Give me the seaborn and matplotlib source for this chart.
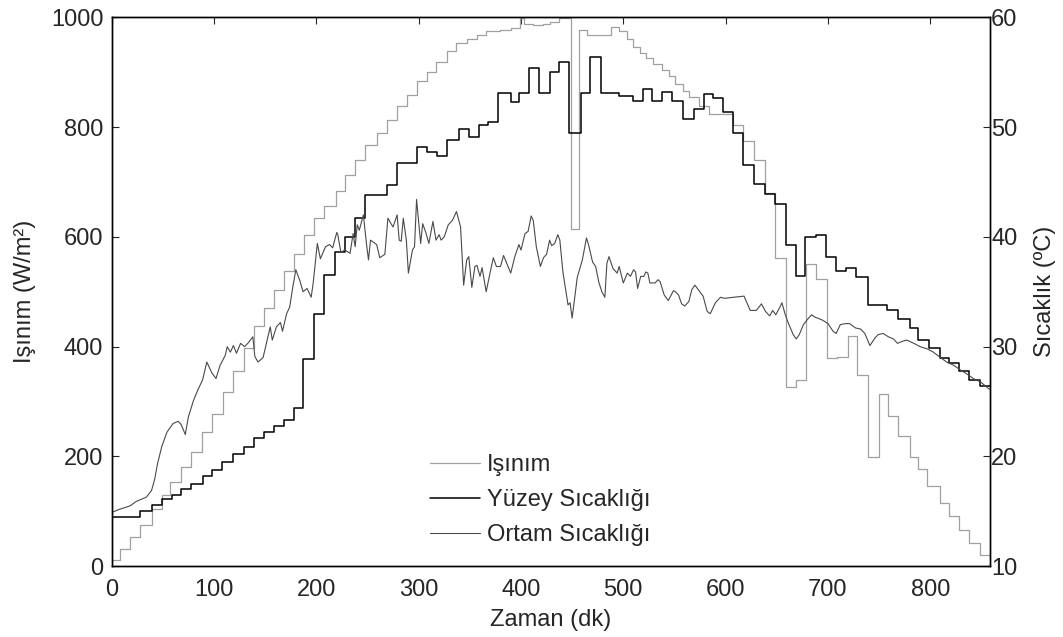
import pandas as pd
import matplotlib
matplotlib.use("Agg")
import matplotlib.pyplot as plt
import seaborn as sns

# Işınım (W/m2) - step series, time of each step (dk)
isinim_t = [0, 8, 18, 28, 39, 49, 57, 68, 78, 88, 98, 109, 119, 129, 139, 149, 159, 168, 178, 188,
            198, 208, 219, 228, 238, 248, 259, 269, 279, 289, 298, 308, 317, 328, 337, 347, 357, 366,
            380, 390, 399, 403, 412, 422, 428, 437, 449, 457, 465, 488, 496, 504, 509, 516, 522, 529,
            538, 545, 551, 558, 564, 574, 584, 607, 617, 628, 638, 648, 659, 669, 679, 688, 699, 709,
            720, 728, 739, 750, 759, 768, 780, 788, 797, 809, 818, 828, 838, 849, 858]
isinim_v = [12, 32, 53, 75, 104, 129, 153, 181, 208, 244, 278, 317, 355, 397, 437, 470, 503, 538, 568, 603,
            634, 657, 684, 712, 740, 768, 789, 813, 838, 859, 883, 900, 918, 939, 953, 960, 967, 974,
            977, 981, 998, 988, 985, 988, 991, 998, 614, 977, 968, 983, 974, 960, 946, 935, 925, 915,
            904, 893, 879, 865, 855, 838, 823, 803, 775, 740, 680, 562, 326, 340, 551, 523, 379, 381,
            419, 348, 199, 313, 274, 237, 199, 178, 147, 115, 91, 66, 42, 21, 21]

# Yüzey Sıcaklığı (°C) - step series
yuzey_t = [0, 28, 39, 49, 59, 68, 78, 89, 98, 108, 119, 129, 139, 149, 159, 168, 178, 187, 198, 208,
           218, 228, 238, 248, 269, 279, 298, 308, 318, 328, 339, 349, 359, 368, 378, 390, 398, 408,
           418, 428, 437, 447, 459, 467, 478, 496, 509, 519, 528, 538, 548, 558, 569, 579, 588, 597,
           607, 617, 628, 638, 648, 659, 669, 678, 688, 698, 708, 718, 727, 739, 758, 768, 780, 788,
           799, 809, 818, 828, 838, 849, 858]
yuzey_v = [14.5, 15.0, 15.6, 16.1, 16.5, 17.0, 17.5, 18.2, 18.8, 19.5, 20.2, 20.9, 21.7, 22.2, 22.8, 23.3,
           24.4, 28.9, 33.0, 36.5, 38.6, 40.0, 41.7, 43.8, 44.7, 46.7, 48.2, 47.7, 47.4, 48.8, 49.8, 49.1,
           50.2, 50.5, 53.1, 52.3, 53.1, 55.4, 53.1, 55.0, 55.9, 49.5, 53.1, 56.4, 53.1, 52.8, 52.4, 53.5,
           52.4, 53.2, 52.4, 50.7, 51.6, 53.0, 52.6, 51.4, 49.5, 46.5, 44.8, 43.9, 43.0, 39.3, 36.4, 40.0,
           40.2, 38.2, 36.9, 37.2, 36.3, 33.8, 33.3, 32.5, 31.7, 30.6, 29.9, 29.0, 28.5, 27.8, 27.0, 26.4,
           26.4]

# Ortam Sıcaklığı (°C)
ortam_t = [0, 8, 18, 24, 34, 39, 42, 45, 49, 54, 60, 65, 68, 72, 75, 80, 84, 89, 93, 96, 98, 102, 106,
           111, 113, 116, 119, 122, 126, 130, 134, 138, 140, 143, 148, 152, 155, 157, 161, 165, 167, 171,
           174, 177, 180, 184, 187, 191, 195, 197, 201, 204, 209, 213, 216, 220, 221, 224, 228, 233, 236,
           238, 240, 242, 246, 249, 251, 253, 259, 262, 267, 270, 273, 275, 279, 281, 283, 285, 288, 290,
           294, 296, 298, 302, 304, 307, 310, 314, 317, 320, 322, 325, 329, 333, 337, 341, 344, 347, 349,
           352, 355, 357, 360, 362, 366, 370, 373, 376, 380, 383, 387, 390, 394, 398, 400, 404, 407, 410,
           412, 415, 419, 422, 425, 428, 430, 433, 436, 438, 441, 446, 448, 450, 455, 460, 464, 466, 470,
           473, 476, 479, 482, 484, 486, 490, 494, 496, 500, 504, 507, 510, 512, 514, 517, 520, 522, 524,
           526, 531, 534, 536, 540, 544, 549, 551, 554, 557, 560, 564, 567, 570, 574, 578, 582, 585, 590,
           595, 599, 608, 618, 624, 630, 635, 639, 643, 646, 649, 653, 655, 658, 661, 666, 669, 672, 676,
           681, 684, 687, 690, 695, 700, 705, 708, 712, 717, 721, 727, 732, 736, 741, 746, 749, 754, 759,
           764, 768, 773, 777, 784, 790, 797, 803, 810, 816, 823, 829, 836, 842, 849, 858]
ortam_v = [14.9, 15.2, 15.5, 15.9, 16.3, 16.9, 17.9, 19.4, 20.9, 22.2, 23.0, 23.2, 22.9, 22.0, 23.6, 25.1,
           26.0, 27.0, 28.6, 28.0, 27.6, 27.1, 28.3, 29.2, 30.0, 29.5, 30.1, 29.4, 30.3, 30.0, 30.4, 30.9,
           29.1, 28.6, 29.0, 30.6, 31.8, 30.6, 31.8, 32.2, 31.4, 33.0, 33.6, 35.4, 37.0, 36.0, 35.0, 35.3,
           34.5, 35.8, 39.4, 38.0, 39.1, 39.3, 39.0, 40.4, 40.2, 38.6, 38.8, 38.5, 40.3, 39.1, 41.1, 40.6,
           42.0, 39.4, 37.9, 39.7, 39.3, 38.1, 38.4, 41.7, 41.2, 40.9, 42.0, 39.7, 39.6, 41.7, 39.7, 36.7,
           38.8, 39.1, 43.4, 39.4, 41.2, 40.4, 39.4, 41.4, 39.7, 40.2, 39.7, 40.0, 41.1, 41.5, 42.3, 40.9,
           35.6, 37.9, 38.2, 35.4, 37.3, 37.4, 36.4, 37.2, 35.0, 36.8, 38.1, 37.3, 37.3, 38.3, 37.4, 36.7,
           38.2, 39.3, 38.8, 40.3, 40.5, 41.9, 41.5, 39.1, 37.3, 38.1, 38.4, 39.7, 39.2, 39.4, 40.2, 39.7,
           36.8, 33.8, 34.0, 32.6, 36.3, 37.9, 39.9, 39.3, 37.7, 37.3, 35.9, 35.0, 34.5, 37.6, 38.2, 37.1,
           36.7, 37.3, 35.8, 36.7, 36.4, 37.0, 36.8, 35.3, 36.4, 36.4, 36.8, 36.7, 35.8, 35.8, 36.1, 35.9,
           34.7, 34.2, 35.1, 35.0, 34.7, 33.9, 33.7, 34.1, 35.2, 35.6, 35.1, 34.6, 33.2, 33.0, 34.0, 34.5,
           34.4, 34.5, 34.6, 33.3, 33.3, 33.9, 33.2, 32.8, 33.3, 32.9, 33.6, 34.0, 33.0, 32.2, 31.1, 30.7,
           31.1, 32.0, 32.6, 32.9, 32.7, 32.6, 32.4, 32.1, 31.4, 31.2, 32.0, 32.1, 32.1, 31.7, 31.6, 31.2,
           30.1, 30.8, 31.1, 31.2, 30.9, 30.7, 30.3, 30.5, 30.6, 30.3, 30.0, 29.8, 29.5, 29.0, 28.6, 28.3,
           27.9, 27.5, 27.1, 26.8, 26.1]

x_ticks = [0, 100, 200, 300, 400, 500, 600, 700, 800]
left_ticks = [0, 200, 400, 600, 800, 1000]
right_ticks = [10, 20, 30, 40, 50, 60]

df_isinim = pd.DataFrame({'Zaman': isinim_t, 'Deger': isinim_v})
df_yuzey = pd.DataFrame({'Zaman': yuzey_t, 'Deger': yuzey_v})
df_ortam = pd.DataFrame({'Zaman': ortam_t, 'Deger': ortam_v})

sns.set_style('white')
plt.rcParams['font.family'] = ['Liberation Sans', 'DejaVu Sans']
fs = 17

fig = plt.figure(figsize=(10.63, 6.37), dpi=100)
ax1 = fig.add_axes([0.105, 0.111, 0.826, 0.862])
ax2 = ax1.twinx()

sns.lineplot(data=df_isinim, x='Zaman', y='Deger', ax=ax1, color='#a0a0a0', linewidth=0.9,
             drawstyle='steps-post', label='Işınım', legend=False)
sns.lineplot(data=df_yuzey, x='Zaman', y='Deger', ax=ax2, color='black', linewidth=1.1,
             drawstyle='steps-post', label='Yüzey Sıcaklığı', legend=False)
sns.lineplot(data=df_ortam, x='Zaman', y='Deger', ax=ax2, color='#4a4a4a', linewidth=0.8,
             label='Ortam Sıcaklığı', legend=False)

ax1.set_xlim(0, 858)
ax1.set_ylim(0, 1000)
ax2.set_ylim(10, 60)
ax1.set_xticks(x_ticks)
ax1.set_yticks(left_ticks)
ax2.set_yticks(right_ticks)

ax1.set_xlabel('Zaman (dk)', fontsize=fs, labelpad=6)
ax1.set_ylabel('Işınım (W/m²)', fontsize=fs, labelpad=11)
ax2.set_ylabel('Sıcaklık (ºC)', fontsize=fs, labelpad=12)

ax1.tick_params(axis='x', direction='in', top=True, length=5, labelsize=fs, pad=9)
ax1.tick_params(axis='y', direction='in', left=True, right=False, length=5, labelsize=fs, pad=6)
ax2.tick_params(axis='y', direction='in', right=True, left=False, length=5, labelsize=fs, pad=1)

for ax in [ax1, ax2]:
    for s in ax.spines.values():
        s.set_color('black')
        s.set_linewidth(1.0)

h1, l1 = ax1.get_legend_handles_labels()
h2, l2 = ax2.get_legend_handles_labels()
ax2.legend(h1 + h2, l1 + l2, loc='center', bbox_to_anchor=(0.488, 0.12), frameon=False,
           fontsize=fs, handlelength=2.1, handletextpad=0.3, labelspacing=0.55, borderpad=0)

plt.savefig('out.png', dpi=100)
